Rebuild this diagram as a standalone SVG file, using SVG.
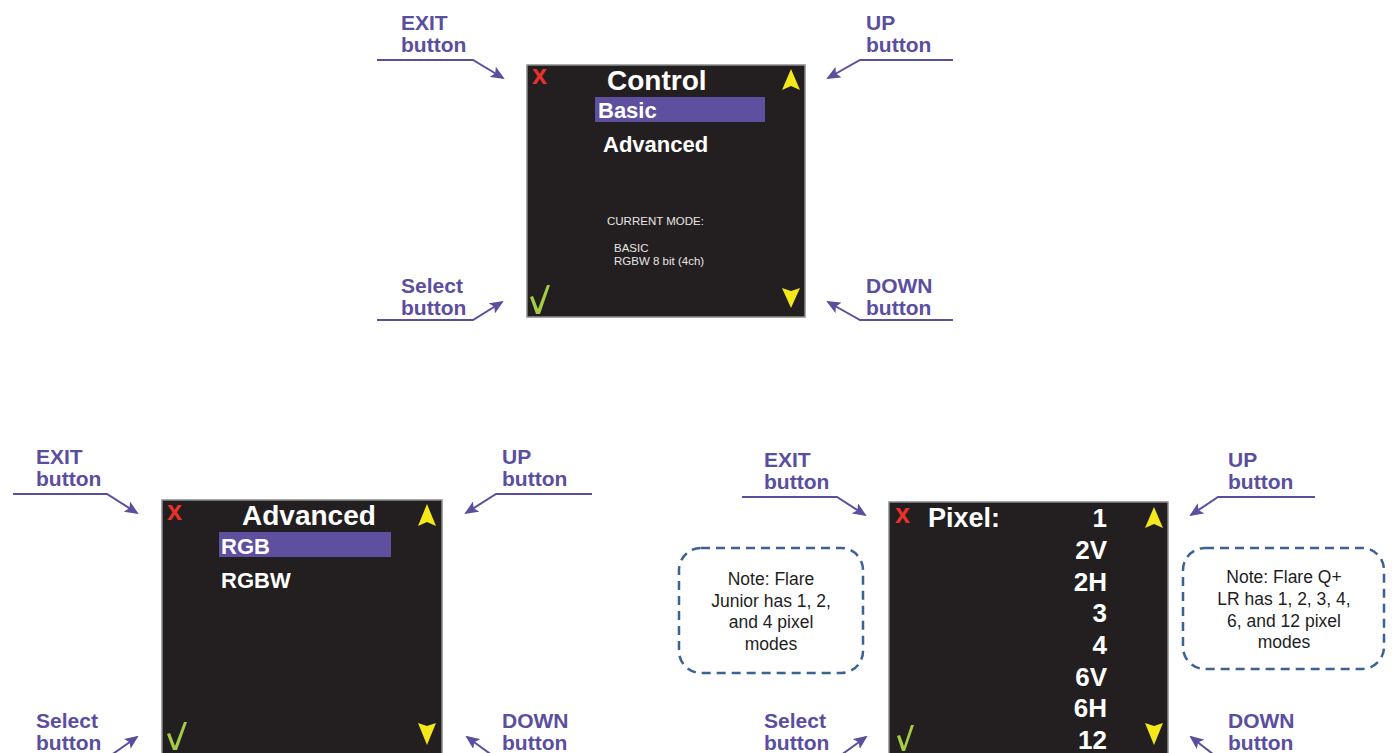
<svg xmlns="http://www.w3.org/2000/svg" width="1393" height="753" viewBox="0 0 1393 753">
<style>
.lbl{font-family:"Liberation Sans",Arial,sans-serif;font-weight:bold;font-size:21px;fill:#5a4e9f}
.scr{fill:#231f20;stroke:#8c8c8c;stroke-width:1.5}
.title{font-family:"Liberation Sans",Arial,sans-serif;font-weight:bold;font-size:28px;fill:#ffffff}
.item{font-family:"Liberation Sans",Arial,sans-serif;font-weight:bold;font-size:22px;fill:#ffffff}
.num{font-family:"Liberation Sans",Arial,sans-serif;font-weight:bold;font-size:26px;fill:#ffffff;text-anchor:end}
.small{font-family:"Liberation Sans",Arial,sans-serif;font-size:11.5px;fill:#e6e6e6}
.hl{fill:#5f4f9f}
.xx{font-family:"Liberation Sans",Arial,sans-serif;font-weight:bold;font-size:27px;fill:#e8312a}
.tri{fill:#f3e81a}
.chk{fill:#a4cc45}
.conn{fill:none;stroke:#5a4e9f;stroke-width:2;marker-end:url(#ah)}
.note{fill:#ffffff;stroke:#3b6293;stroke-width:2.5;stroke-dasharray:9 6}
.ntxt{font-family:"Liberation Sans",Arial,sans-serif;font-size:17.5px;fill:#1e1e1e;text-anchor:middle}
</style>
<defs>
<marker id="ah" markerWidth="14" markerHeight="12" refX="12" refY="6" orient="auto" markerUnits="userSpaceOnUse">
<path d="M0,0 L14,6 L0,12 L3,6 Z" fill="#5a4e9f"/>
</marker>
</defs>
<rect width="1393" height="753" fill="#ffffff"/>

<g id="connectors">
<path class="conn" d="M377,60 L473,60 L503,78"/>
<path class="conn" d="M953,60 L860,60 L828,78"/>
<path class="conn" d="M377,320 L473,320 L502,302"/>
<path class="conn" d="M953,320 L860,320 L828,302"/>
<path class="conn" d="M13,494 L107,494 L137,513"/>
<path class="conn" d="M592,494 L496,494 L466,513"/>
<path class="conn" d="M13,758 L107,758 L137,737"/>
<path class="conn" d="M592,758 L496,758 L467,737"/>
<path class="conn" d="M742,497 L837,497 L865,515"/>
<path class="conn" d="M1315,497 L1218,497 L1191,515"/>
<path class="conn" d="M742,758 L837,758 L866,737"/>
<path class="conn" d="M1315,758 L1218,758 L1191,737"/>
</g>

<g id="labels-top">
<text class="lbl" x="401" y="30">EXIT</text><text class="lbl" x="401" y="52">button</text>
<text class="lbl" x="866" y="30">UP</text><text class="lbl" x="866" y="52">button</text>
<text class="lbl" x="401" y="293">Select</text><text class="lbl" x="401" y="315">button</text>
<text class="lbl" x="866" y="293">DOWN</text><text class="lbl" x="866" y="315">button</text>
</g>

<g id="screen-control">
<rect class="scr" x="527" y="65" width="278" height="252"/>
<text class="xx" x="532" y="84">x</text>
<polygon class="tri" points="791,69 800,90 791,86 782,90"/>
<text class="title" x="607" y="90">Control</text>
<rect class="hl" x="595" y="97" width="170" height="25"/>
<text class="item" x="598" y="118">Basic</text>
<text class="item" x="603" y="152">Advanced</text>
<text class="small" x="607" y="225">CURRENT MODE:</text>
<text class="small" x="614" y="252">BASIC</text>
<text class="small" x="614" y="265">RGBW 8 bit (4ch)</text>
<polygon class="chk" points="530,297 533,296 538,309 547,285 550,285 540,314 536,314"/>
<polygon class="tri" points="782,288 791,291 800,288 791,308"/>
</g>

<g id="labels-bl">
<text class="lbl" x="36" y="464">EXIT</text><text class="lbl" x="36" y="486">button</text>
<text class="lbl" x="502" y="464">UP</text><text class="lbl" x="502" y="486">button</text>
<text class="lbl" x="36" y="728">Select</text><text class="lbl" x="36" y="750">button</text>
<text class="lbl" x="502" y="728">DOWN</text><text class="lbl" x="502" y="750">button</text>
</g>

<g id="screen-advanced">
<rect class="scr" x="162" y="500" width="280" height="262"/>
<text class="xx" x="167" y="520">x</text>
<polygon class="tri" points="427,504 436,526 427,522 418,526"/>
<text class="title" x="242" y="525">Advanced</text>
<rect class="hl" x="219" y="532" width="172" height="25"/>
<text class="item" x="221" y="554">RGB</text>
<text class="item" x="221" y="588">RGBW</text>
<polygon class="chk" points="167,734 170,733 175,746 184,722 187,722 177,750 173,750"/>
<polygon class="tri" points="418,723 427,726 436,723 427,745"/>
</g>

<g id="labels-br">
<text class="lbl" x="764" y="467">EXIT</text><text class="lbl" x="764" y="489">button</text>
<text class="lbl" x="1228" y="467">UP</text><text class="lbl" x="1228" y="489">button</text>
<text class="lbl" x="764" y="728">Select</text><text class="lbl" x="764" y="750">button</text>
<text class="lbl" x="1228" y="728">DOWN</text><text class="lbl" x="1228" y="750">button</text>
</g>

<g id="screen-pixel">
<rect class="scr" x="889" y="502" width="279" height="260"/>
<text class="xx" x="895" y="523">x</text>
<text class="title" x="928" y="527" style="font-size:27px">Pixel:</text>
<text class="num" x="1107" y="527">1</text>
<text class="num" x="1107" y="559">2V</text>
<text class="num" x="1107" y="591">2H</text>
<text class="num" x="1107" y="622">3</text>
<text class="num" x="1107" y="654">4</text>
<text class="num" x="1107" y="686">6V</text>
<text class="num" x="1107" y="717">6H</text>
<text class="num" x="1107" y="749">12</text>
<polygon class="tri" points="1154,507 1163,528 1154,524 1145,528"/>
<polygon class="tri" points="1145,723 1154,726 1163,723 1154,745"/>
<polygon class="chk" points="897,736 900,735 904,746 911,725 914,725 905,751 902,751"/>
</g>

<g id="note-left">
<rect class="note" x="679" y="548" width="184" height="125" rx="22" ry="22"/>
<text class="ntxt" x="771" y="585">Note: Flare</text>
<text class="ntxt" x="771" y="607">Junior has 1, 2,</text>
<text class="ntxt" x="771" y="628">and 4 pixel</text>
<text class="ntxt" x="771" y="650">modes</text>
</g>

<g id="note-right">
<rect class="note" x="1183" y="548" width="201" height="121" rx="22" ry="22"/>
<text class="ntxt" x="1284" y="583">Note: Flare Q+</text>
<text class="ntxt" x="1284" y="605">LR has 1, 2, 3, 4,</text>
<text class="ntxt" x="1284" y="627">6, and 12 pixel</text>
<text class="ntxt" x="1284" y="648">modes</text>
</g>
</svg>
